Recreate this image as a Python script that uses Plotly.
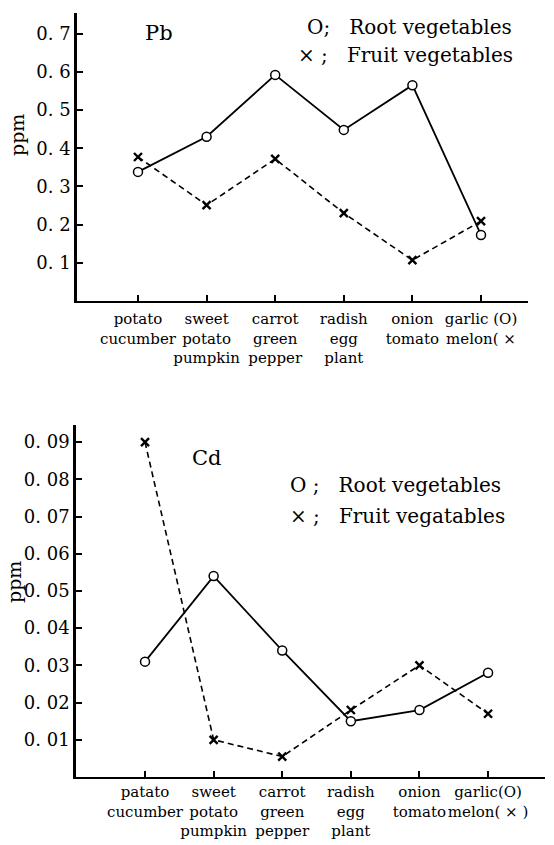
import plotly.graph_objects as go

NB = "\u00a0"

# ---------------- data ----------------
pb_categories = ["potato<br>cucumber", "sweet<br>potato<br>pumpkin", "carrot<br>green<br>pepper",
                 "radish<br>egg<br>plant", "onion<br>tomato", "garlic (O)<br>melon( ×"]
pb_root = [0.338, 0.430, 0.592, 0.448, 0.565, 0.173]
pb_fruit = [0.377, 0.251, 0.372, 0.230, 0.107, 0.209]
pb_ytickvals = [0.1, 0.2, 0.3, 0.4, 0.5, 0.6, 0.7]
pb_yticktext = ["0." + NB + "1", "0." + NB + "2", "0." + NB + "3", "0." + NB + "4",
                "0." + NB + "5", "0." + NB + "6", "0." + NB + "7"]

cd_categories = ["patato<br>cucumber", "sweet<br>potato<br>pumpkin", "carrot<br>green<br>pepper",
                 "radish<br>egg<br>plant", "onion<br>tomato", "garlic(O)<br>melon( × )"]
cd_root = [0.031, 0.054, 0.034, 0.015, 0.018, 0.028]
cd_fruit = [0.090, 0.010, 0.0055, 0.018, 0.030, 0.017]
cd_ytickvals = [0.01, 0.02, 0.03, 0.04, 0.05, 0.06, 0.07, 0.08, 0.09]
cd_yticktext = ["0." + NB + "01", "0." + NB + "02", "0." + NB + "03", "0." + NB + "04",
                "0." + NB + "05", "0." + NB + "06", "0." + NB + "07", "0." + NB + "08",
                "0." + NB + "09"]

FONT = "DejaVu Serif"
W, H = 554, 845

fig = go.Figure()

circle_marker = dict(symbol="circle", size=9, color="white", line=dict(color="black", width=1.5))
cross_marker = dict(symbol="x-thin", size=8, color="black", line=dict(color="black", width=2.4))

# top chart
fig.add_trace(go.Scatter(x=pb_categories, y=pb_root, mode="lines+markers",
                         line=dict(color="black", width=1.8), marker=circle_marker,
                         xaxis="x", yaxis="y", showlegend=False))
fig.add_trace(go.Scatter(x=pb_categories, y=pb_fruit, mode="lines+markers",
                         line=dict(color="black", width=1.6, dash="6px,4px"), marker=cross_marker,
                         xaxis="x", yaxis="y", showlegend=False))
# bottom chart
fig.add_trace(go.Scatter(x=cd_categories, y=cd_root, mode="lines+markers",
                         line=dict(color="black", width=1.8), marker=circle_marker,
                         xaxis="x2", yaxis="y2", showlegend=False))
fig.add_trace(go.Scatter(x=cd_categories, y=cd_fruit, mode="lines+markers",
                         line=dict(color="black", width=1.6, dash="6px,4px"), marker=cross_marker,
                         xaxis="x2", yaxis="y2", showlegend=False))

axis_common = dict(showgrid=False, zeroline=False, showline=True, linecolor="black",
                   ticks="inside", ticklen=6, tickwidth=1.5, tickcolor="black")

xfont = dict(family=FONT, size=15, color="black")
yfont = dict(family=FONT, size=18, color="black")

fig.update_layout(
    width=W, height=H,
    margin=dict(l=0, r=0, t=0, b=0),
    paper_bgcolor="white", plot_bgcolor="white",
    xaxis=dict(domain=[77 / W, 528 / W], anchor="y", type="category",
               range=[-0.889, 5.685], linewidth=2, tickfont=xfont, tickangle=0,
               ticklabelstandoff=3, **axis_common),
    yaxis=dict(domain=[1 - 301 / H, 1 - 13 / H], anchor="x", range=[0, 0.754],
               tickvals=pb_ytickvals, ticktext=pb_yticktext, linewidth=2.5,
               tickfont=yfont, **axis_common),
    xaxis2=dict(domain=[76 / W, 545 / W], anchor="y2", type="category",
                range=[-1.006, 5.83], linewidth=2, tickfont=xfont, tickangle=0,
                ticklabelstandoff=0, **axis_common),
    yaxis2=dict(domain=[1 - 777 / H, 1 - 425 / H], anchor="x2", range=[0, 0.0946],
                tickvals=cd_ytickvals, ticktext=cd_yticktext, linewidth=2.5,
                tickfont=yfont, **axis_common),
)

ann_font = dict(family=FONT, size=21, color="black")
leg_font = dict(family=FONT, size=20, color="black")

annotations = [
    dict(text="Pb", x=143 / W, y=1 - 33 / H, xanchor="left", yanchor="middle", font=ann_font),
    dict(text="Cd", x=190 / W, y=1 - 458 / H, xanchor="left", yanchor="middle", font=ann_font),
    dict(text="O;" + NB * 3 + "Root vegetables", x=305 / W, y=1 - 27 / H,
         xanchor="left", yanchor="middle", font=leg_font),
    dict(text="×" + NB + ";" + NB * 3 + "Fruit vegetables", x=296 / W, y=1 - 55 / H,
         xanchor="left", yanchor="middle", font=leg_font),
    dict(text="O" + NB + ";" + NB * 3 + "Root vegetables", x=288 / W, y=1 - 485 / H,
         xanchor="left", yanchor="middle", font=leg_font),
    dict(text="×" + NB + ";" + NB * 3 + "Fruit vegatables", x=288 / W, y=1 - 516 / H,
         xanchor="left", yanchor="middle", font=leg_font),
    dict(text="ppm", x=17 / W, y=1 - 135 / H, textangle=-90, xanchor="center",
         yanchor="middle", font=dict(family=FONT, size=19, color="black")),
    dict(text="ppm", x=14 / W, y=1 - 582 / H, textangle=-90, xanchor="center",
         yanchor="middle", font=dict(family=FONT, size=19, color="black")),
]
for a in annotations:
    a.update(xref="paper", yref="paper", showarrow=False)
fig.update_layout(annotations=annotations)

fig.write_html("out.html", config={"displayModeBar": False},
               post_script="document.body.style.margin='0';document.body.style.padding='0';")
